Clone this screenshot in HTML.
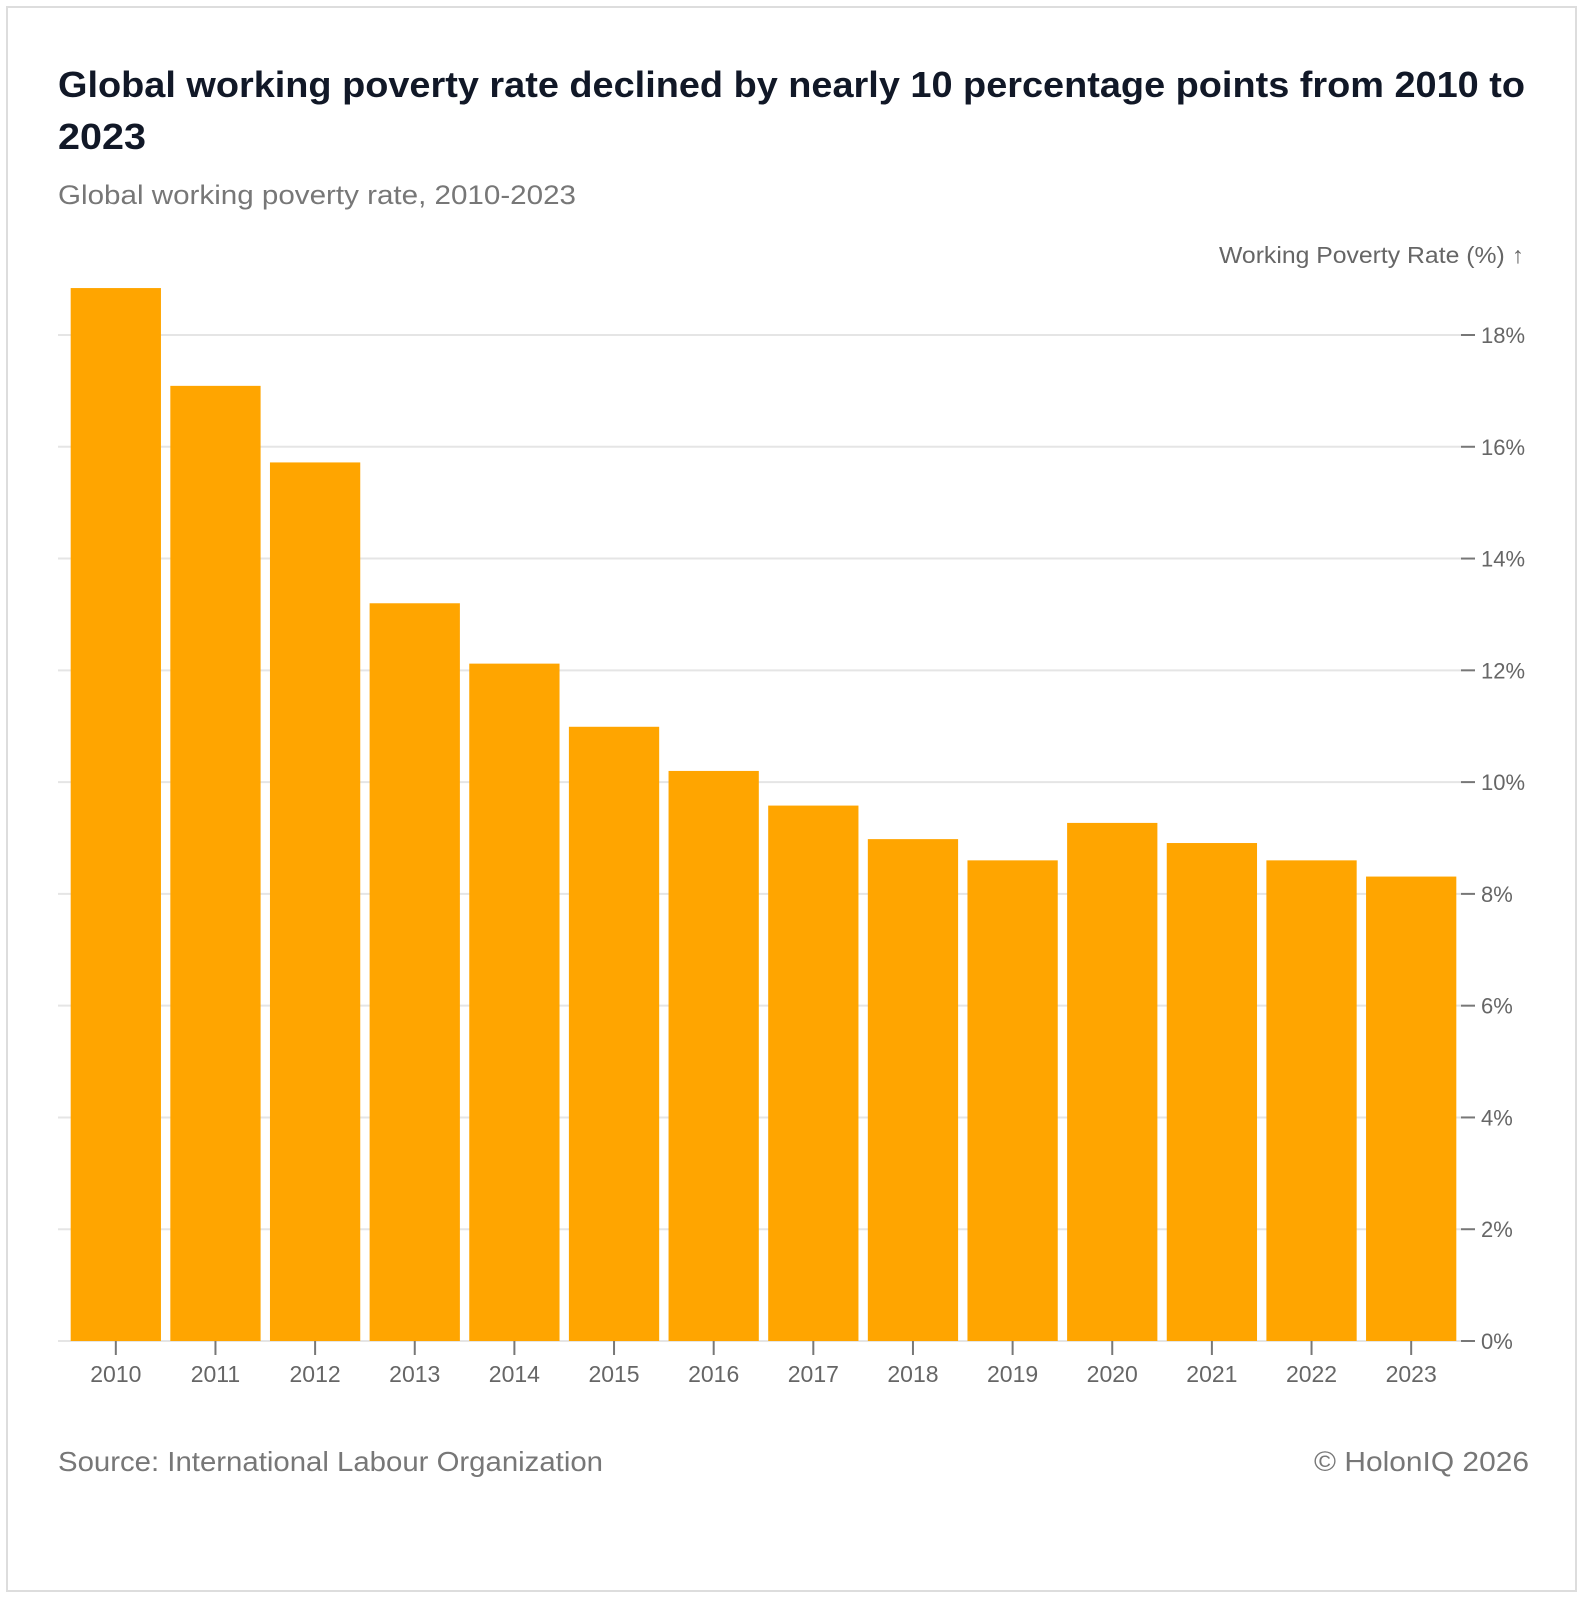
<!DOCTYPE html>
<html><head><meta charset="utf-8"><style>
html,body{margin:0;padding:0;background:#fff;}
body{width:1585px;height:1600px;position:relative;overflow:hidden;font-family:"Liberation Sans","DejaVu Sans",sans-serif;}
#frame{position:absolute;left:6px;top:6px;width:1571px;height:1586px;border:2px solid #ddd;box-sizing:border-box;}
svg{position:absolute;left:0;top:0;}
</style></head><body>
<div id="frame"></div>
<svg id="chart" width="1585" height="1600">
<text x="58" y="97" font-size="36" font-weight="bold" fill="#111827" textLength="1467" lengthAdjust="spacingAndGlyphs">Global working poverty rate declined by nearly 10 percentage points from 2010 to</text>
<text x="58" y="149" font-size="36" font-weight="bold" fill="#111827" textLength="88" lengthAdjust="spacingAndGlyphs">2023</text>
<text x="58" y="204" font-size="27" fill="#777" textLength="518" lengthAdjust="spacingAndGlyphs">Global working poverty rate, 2010-2023</text>
<text x="1219" y="263" font-size="23" fill="#666" textLength="305" lengthAdjust="spacingAndGlyphs">Working Poverty Rate (%) ↑</text>
<g id="grid"></g><g id="bars"></g><g id="xaxis"></g><g id="yaxis"></g>
<text x="58" y="1471" font-size="28" fill="#777" textLength="545" lengthAdjust="spacingAndGlyphs">Source: International Labour Organization</text>
<text x="1314" y="1471" font-size="28" fill="#777" textLength="215" lengthAdjust="spacingAndGlyphs">© HolonIQ 2026</text>
</svg>
<script>
const categories=["2010","2011","2012","2013","2014","2015","2016","2017","2018","2019","2020","2021","2022","2023"];
const values=[18.84,17.09,15.72,13.2,12.12,10.99,10.2,9.58,8.98,8.6,9.27,8.91,8.6,8.31];
const yTicks=[0,2,4,6,8,10,12,14,16,18];
const yTickLabels=["0%","2%","4%","6%","8%","10%","12%","14%","16%","18%"];
const NS="http://www.w3.org/2000/svg";
const L=66,R=1461,T0=1341,PerUnit=(1341-335)/18;
const y=v=>T0-v*PerUnit;
const band=(R-L)/categories.length;
const x=i=>L+i*band;
function mk(tag,attrs,parent){const e=document.createElementNS(NS,tag);for(const k in attrs)e.setAttribute(k,attrs[k]);parent.appendChild(e);return e;}
const grid=document.getElementById('grid'),bars=document.getElementById('bars'),xa=document.getElementById('xaxis'),ya=document.getElementById('yaxis');
yTicks.forEach((t,i)=>{
  if(t>0){const g=mk('line',{x1:58,x2:R,y1:y(t),y2:y(t),stroke:'#e5e5e5','stroke-width':2},grid);
  
  }
  const tk=mk('line',{x1:R,x2:R+14,y1:y(t),y2:y(t),stroke:'#777','stroke-width':2},ya);
  
  
  const lb=mk('text',{x:R+20,y:y(t)+8,'font-size':22,fill:'#666'},ya);
  lb.textContent=yTickLabels[i];
  
  
});
const base=mk('line',{x1:58,x2:R,y1:T0,y2:T0,stroke:'#e5e5e5','stroke-width':2},grid);


categories.forEach((c,i)=>{
  const pad=band*0.047;
  const b=mk('rect',{x:x(i)+pad,y:y(values[i]),width:band-2*pad,height:T0-y(values[i]),fill:'#ffa500'},bars);
  
  
  const cx=x(i)+band/2;
  const tk=mk('line',{x1:cx,x2:cx,y1:T0,y2:T0+14,stroke:'#777','stroke-width':2},xa);
  
  
  const lb=mk('text',{x:cx,y:1382,'font-size':23,fill:'#666','text-anchor':'middle'},xa);
  lb.textContent=c;
  
  
});
</script>
</body></html>
